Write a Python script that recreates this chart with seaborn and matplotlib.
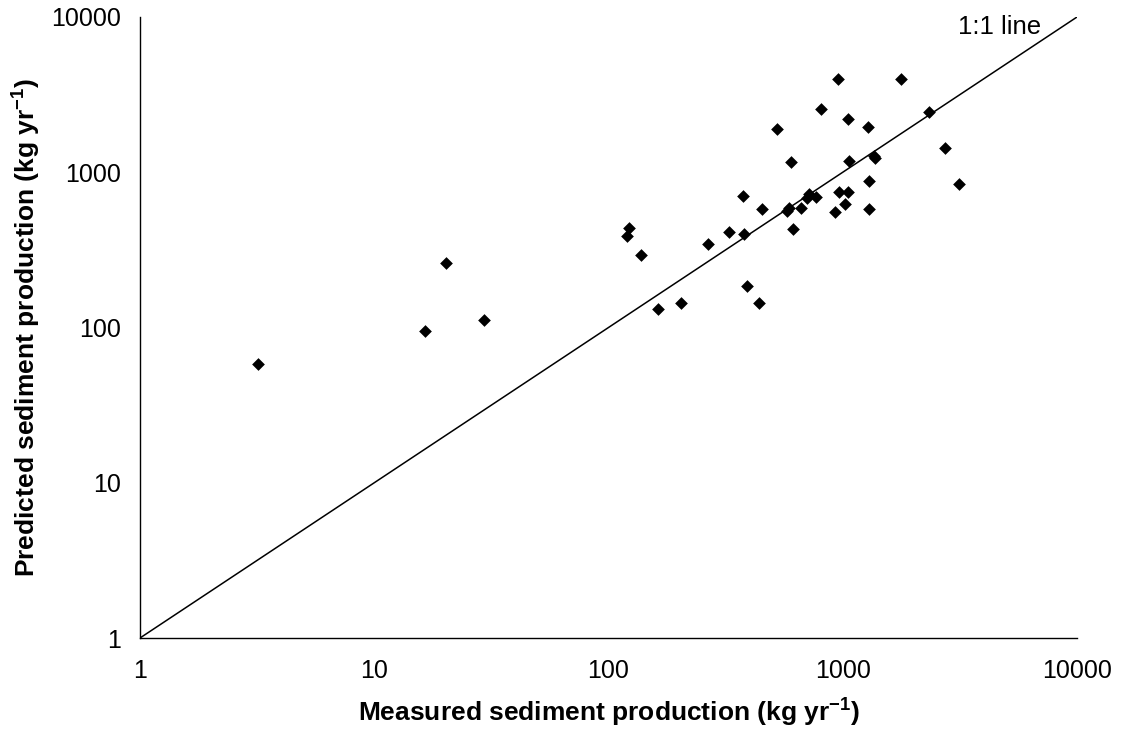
import matplotlib
matplotlib.use("Agg")
import matplotlib.pyplot as plt
import seaborn as sns
import pandas as pd

measured = [3.2, 16.5, 20.3, 29.4, 119.5, 122.7, 137, 162, 204, 265, 327, 374, 380, 389,
            438, 451, 522, 580, 590, 601, 615, 665, 701, 720, 769, 808, 929, 957, 961,
            1019, 1052, 1056, 1059, 1286, 1294, 1298, 1360, 1373, 1774, 2335, 2742, 3148]
predicted = [58, 95, 259, 111, 388, 439, 294, 132, 144.5, 347, 410, 706, 398, 185,
             144.5, 579, 1910, 560, 590, 1170, 433, 589, 680, 721, 696, 2555, 557, 3970, 750,
             625, 750, 2193, 1177, 1955, 577, 883, 1273, 1230, 3970, 2444, 1426, 840]
line_x = [1, 10000]
line_y = [1, 10000]
tick_vals = [1, 10, 100, 1000, 10000]
tick_labels = ["1", "10", "100", "1000", "10000"]

sns.set_theme(style="white")
plt.rcParams['font.family'] = ['Liberation Sans', 'DejaVu Sans']
plt.rcParams['mathtext.fontset'] = 'custom'
plt.rcParams['mathtext.rm'] = 'Liberation Sans'
plt.rcParams['mathtext.bf'] = 'Liberation Sans:bold'
plt.rcParams['text.color'] = 'black'
plt.rcParams['axes.labelcolor'] = 'black'

fig = plt.figure(figsize=(11.23, 7.40), dpi=100)
ax = fig.add_axes([140 / 1123, 1 - 638 / 740, (1077 - 140) / 1123, (638 - 17) / 740])

df = pd.DataFrame({"measured": measured, "predicted": predicted})
sns.lineplot(x=line_x, y=line_y, ax=ax, color="black", linewidth=1.1)
sns.scatterplot(data=df, x="measured", y="predicted", ax=ax, marker="D", s=42,
                color="black", edgecolor="black", linewidth=0, zorder=3)

ax.set_xscale("log")
ax.set_yscale("log")
ax.set_xlim(1, 10000)
ax.set_ylim(1, 10000)
ax.set_xticks(tick_vals)
ax.set_xticklabels(tick_labels)
ax.set_yticks(tick_vals)
ax.set_yticklabels(tick_labels)
ax.minorticks_off()

for s in ["top", "right"]:
    ax.spines[s].set_visible(False)
for s in ["left", "bottom"]:
    ax.spines[s].set_color("black")
    ax.spines[s].set_linewidth(1.0)

ax.tick_params(axis="both", which="major", direction="out", length=5, width=1,
               color="#555555", labelsize=18, labelcolor="black")
ax.tick_params(axis="x", pad=10)
ax.tick_params(axis="y", pad=9)

ax.set_xlabel(r"Measured sediment production (kg yr$^{\mathbf{-1}}$)",
              fontsize=19, fontweight="bold", labelpad=9, color="black")
ax.set_ylabel(r"Predicted sediment production (kg yr$^{\mathbf{-1}}$)",
              fontsize=19, fontweight="bold", labelpad=6, color="black")

ax.text(3105, 8620, "1:1 line", fontsize=18.5, ha="left", va="center", color="black")

fig.savefig("out.png", dpi=100, facecolor="white")
